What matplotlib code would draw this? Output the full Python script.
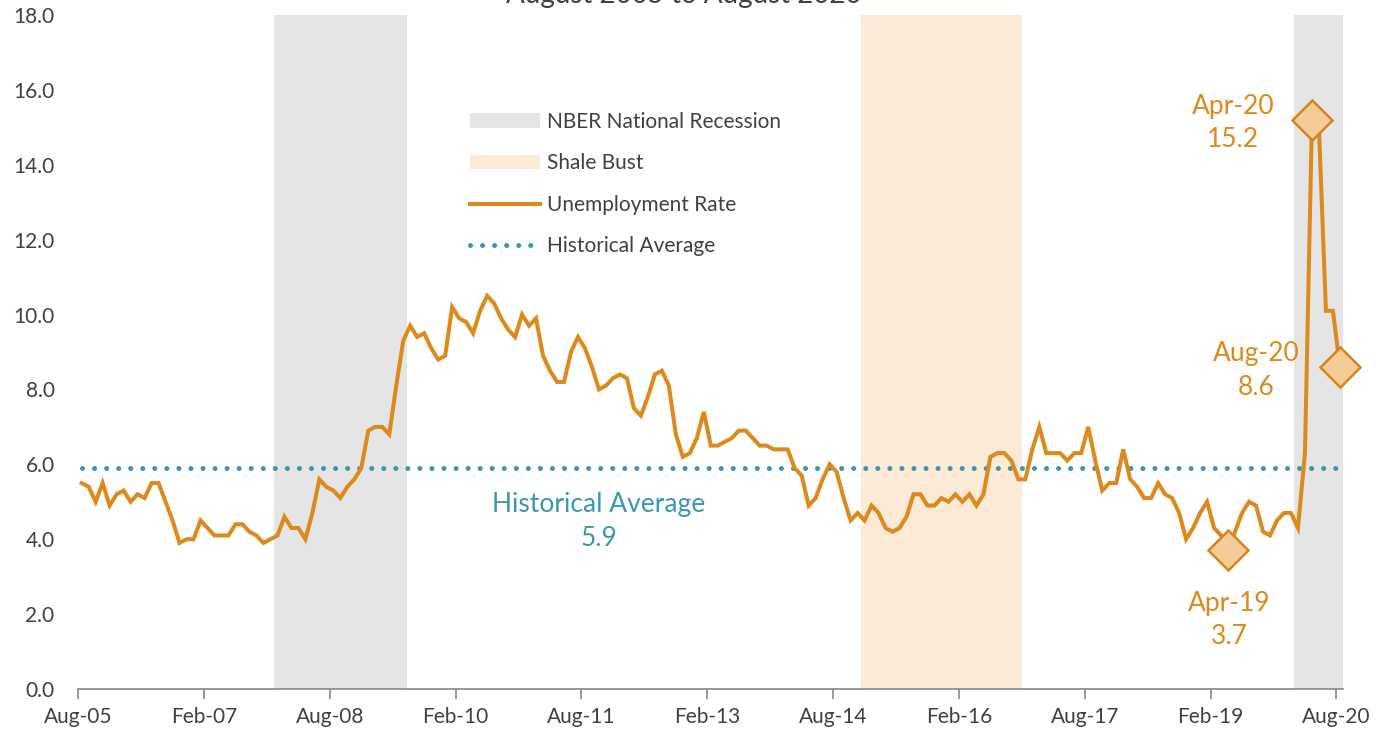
import matplotlib
matplotlib.use("Agg")
import matplotlib.pyplot as plt
from matplotlib.patches import Patch
from matplotlib.lines import Line2D

# monthly unemployment rate, Aug-05 .. Aug-20 (12 per row)
rates = [
    5.5, 5.4, 5.0, 5.5, 4.9, 5.2, 5.3, 5.0, 5.2, 5.1, 5.5, 5.5,
    5.0, 4.5, 3.9, 4.0, 4.0, 4.5, 4.3, 4.1, 4.1, 4.1, 4.4, 4.4,
    4.2, 4.1, 3.9, 4.0, 4.1, 4.6, 4.3, 4.3, 4.0, 4.7, 5.6, 5.4,
    5.3, 5.1, 5.4, 5.6, 5.9, 6.9, 7.0, 7.0, 6.8, 8.1, 9.3, 9.7,
    9.4, 9.5, 9.1, 8.8, 8.9, 10.2, 9.9, 9.8, 9.5, 10.1, 10.5, 10.3,
    9.9, 9.6, 9.4, 10.0, 9.7, 9.9, 8.9, 8.5, 8.2, 8.2, 9.0, 9.4,
    9.1, 8.6, 8.0, 8.1, 8.3, 8.4, 8.3, 7.5, 7.3, 7.8, 8.4, 8.5,
    8.1, 6.8, 6.2, 6.3, 6.7, 7.4, 6.5, 6.5, 6.6, 6.7, 6.9, 6.9,
    6.7, 6.5, 6.5, 6.4, 6.4, 6.4, 5.9, 5.7, 4.9, 5.1, 5.6, 6.0,
    5.8, 5.1, 4.5, 4.7, 4.5, 4.9, 4.7, 4.3, 4.2, 4.3, 4.6, 5.2,
    5.2, 4.9, 4.9, 5.1, 5.0, 5.2, 5.0, 5.2, 4.9, 5.2, 6.2, 6.3,
    6.3, 6.1, 5.6, 5.6, 6.4, 7.0, 6.3, 6.3, 6.3, 6.1, 6.3, 6.3,
    7.0, 6.1, 5.3, 5.5, 5.5, 6.4, 5.6, 5.4, 5.1, 5.1, 5.5, 5.2,
    5.1, 4.7, 4.0, 4.3, 4.7, 5.0, 4.3, 4.1, 3.7, 4.2, 4.7, 5.0,
    4.9, 4.2, 4.1, 4.5, 4.7, 4.7, 4.3, 6.3, 15.2, 15.0, 10.1, 10.1,
    8.6,
]
hist_avg = 5.9

tick_labels = ["Aug-05", "Feb-07", "Aug-08", "Feb-10", "Aug-11", "Feb-13",
               "Aug-14", "Feb-16", "Aug-17", "Feb-19", "Aug-20"]

# month index of first and last month in each shaded period
recessions = [(28, 46), (174, 180)]   # Dec-07..Jun-09, Feb-20..Aug-20
shale_bust = (112, 134)               # Dec-14..Oct-16

# highlighted months: index, label
callouts = [(164, "Apr-19"), (176, "Apr-20"), (180, "Aug-20")]

orange = "#DC8A1C"
teal = "#3A97AF"
text_gray = "#404040"
plt.rcParams["font.family"] = ["Lato", "DejaVu Sans"]

months = list(range(len(rates)))

fig = plt.figure(figsize=(13.98, 7.33), dpi=100)
ax = fig.add_axes([78.2 / 1398, 1 - 689 / 733, (1343.4 - 78.2) / 1398, 674 / 733])

for start, end in recessions:
    ax.axvspan(start - 0.5, end + 0.5, color="#E5E5E5", lw=0, zorder=0)
ax.axvspan(shale_bust[0] - 0.5, shale_bust[1] + 0.5, color="#FAEAD6", lw=0, zorder=0)

ax.plot(months, [hist_avg] * len(months), color=teal, lw=3.6,
        linestyle=(0, (0.01, 2.4)), dash_capstyle="round", zorder=2)
ax.plot(months, rates, color=orange, lw=2.9, solid_joinstyle="miter", zorder=3)

for idx, lab in callouts:
    ax.plot(idx, rates[idx], marker="D", ms=20, mfc="#F5CC98", mec="#D4861E",
            mew=1.8, zorder=4, clip_on=False)

# callout texts (offsets in points)
offsets = {164: (1, -50), 176: (-57, -2.2), 180: (-60, -2.5)}
for idx, lab in callouts:
    ax.annotate(f"{lab}\n{rates[idx]:.1f}", xy=(idx, rates[idx]),
                xytext=offsets[idx], textcoords="offset points",
                ha="center", va="center", fontsize=19, color=orange,
                linespacing=1.42, zorder=5)

ax.text(74, 4.47, f"Historical Average\n{hist_avg:.1f}", ha="center", va="center",
        fontsize=19, color=teal, linespacing=1.42)

ax.set_xlim(-0.5, len(rates) - 0.5)
ax.set_ylim(0, 18)
ax.set_xticks([18 * k - 0.5 for k in range(len(tick_labels))])
ax.set_xticklabels(tick_labels)
ax.set_yticks(range(0, 19, 2))
ax.set_yticklabels([f"{v:.1f}" for v in range(0, 19, 2)])

for side in ["top", "right", "left"]:
    ax.spines[side].set_visible(False)
ax.spines["bottom"].set_color("#868686")
ax.spines["bottom"].set_linewidth(1.2)
ax.tick_params(axis="x", direction="out", length=7, width=1.2, color="#868686",
               labelsize=15, labelcolor=text_gray, pad=6)
ax.tick_params(axis="y", length=0, labelsize=15, labelcolor=text_gray, pad=17)

handles = [
    Patch(facecolor="#E5E5E5", edgecolor="none"),
    Patch(facecolor="#FAEAD6", edgecolor="none"),
    Line2D([], [], color=orange, lw=2.9),
    Line2D([], [], color=teal, lw=3.6, linestyle=(0, (0.01, 2.4)), dash_capstyle="round"),
]
labels = ["NBER National Recession", "Shale Bust", "Unemployment Rate", "Historical Average"]
fig.legend(handles, labels, loc="upper left", bbox_to_anchor=(470 / 1398, 1 - 112 / 733),
           frameon=False, fontsize=15, handlelength=3.37, handletextpad=0.34,
           labelspacing=1.03, borderpad=0, borderaxespad=0, labelcolor=text_gray)

fig.text(684 / 1398, 1 - 3 / 733, "August 2005 to August 2020", ha="center",
         va="baseline", fontsize=20, color=text_gray)

fig.savefig("out.png", dpi=100)
